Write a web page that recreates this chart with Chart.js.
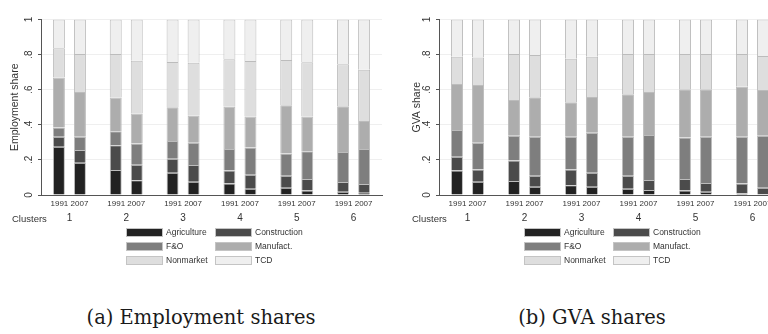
<!DOCTYPE html>
<html>
<head>
<meta charset="utf-8">
<script src="https://cdn.jsdelivr.net/npm/chart.js@4.4.1/dist/chart.umd.min.js"></script>
<style>
  body { margin:0; width:768px; height:334px; overflow:hidden; background:#fff; position:relative; font-family:"Liberation Sans", sans-serif; color:#333; }
  canvas { position:absolute; top:0; }
  .clusters { position:absolute; top:213px; font-size:9.5px; line-height:12px; }
  .legend { position:absolute; top:228px; display:grid; grid-template-columns:89px 90px; row-gap:5px; font-size:8.5px; line-height:9px; white-space:nowrap; }
  .legend .box { display:inline-block; width:37px; height:9px; vertical-align:top; margin-right:3px; box-sizing:border-box; border:1px solid #c4c4c4; }
  .caption { position:absolute; top:306px; width:384px; text-align:center; font-family:"DejaVu Serif", serif; font-size:19.5px; color:#1a1a1a; }
</style>
</head>
<body>
<canvas id="emp" width="384" height="240" style="left:0"></canvas>
<canvas id="gva" width="400" height="240" style="left:384px"></canvas>
<div class="clusters" style="left:12px">Clusters</div>
<div class="clusters" style="left:412px">Clusters</div>
<div class="legend" id="legEmp" style="left:126px"></div>
<div class="legend" id="legGva" style="left:524px"></div>
<div class="caption" style="left:9px">(a) Employment shares</div>
<div class="caption" style="left:400px">(b) GVA shares</div>
<script>
const clusters = ['1', '2', '3', '4', '5', '6'];
const years = ['1991', '2007'];
const sectors = ['Agriculture', 'Construction', 'F&O', 'Manufact.', 'Nonmarket', 'TCD'];
const sectorColors = ['#222222', '#4b4b4b', '#7e7e7e', '#adadad', '#dedede', '#efefef'];
const yTickLabels = ['0', '.2', '.4', '.6', '.8', '1'];

// employment shares, one pair per cluster: [1991, 2007]
const empAgriculture = [[.275, .184], [.142, .084], [.127, .076], [.065, .036], [.042, .025], [.019, .013]];
const empConstruction = [[.057, .072], [.141, .089], [.080, .095], [.074, .080], [.068, .066], [.055, .050]];
const empFO = [[.052, .076], [.080, .121], [.101, .127], [.123, .154], [.127, .158], [.171, .199]];
const empManufact = [[.286, .255], [.192, .171], [.192, .154], [.241, .178], [.274, .199], [.260, .160]];
const empNonmarket = [[.166, .216], [.248, .300], [.258, .302], [.270, .316], [.258, .308], [.240, .292]];
const empTCD = [[.164, .197], [.197, .235], [.242, .246], [.227, .236], [.231, .244], [.255, .286]];

// GVA shares
const gvaAgriculture = [[.139, .076], [.080, .047], [.055, .047], [.036, .028], [.025, .019], [.009, .006]];
const gvaConstruction = [[.079, .070], [.116, .063], [.091, .080], [.074, .057], [.066, .049], [.056, .036]];
const gvaFO = [[.152, .152], [.142, .222], [.186, .228], [.222, .257], [.236, .264], [.267, .296]];
const gvaManufact = [[.262, .329], [.203, .225], [.196, .203], [.242, .245], [.275, .270], [.285, .260]];
const gvaNonmarket = [[.156, .157], [.262, .241], [.249, .230], [.229, .216], [.201, .201], [.186, .194]];
const gvaTCD = [[.212, .216], [.197, .202], [.223, .212], [.197, .197], [.197, .197], [.197, .208]];

function drawPanel(id, yTitle, series, yWidth, padRight, titlePad) {
  const datasets = [];
  years.forEach((yr, yi) => {
    sectors.forEach((name, si) => {
      datasets.push({
        label: name,
        stack: yr,
        data: series[si].map(p => p[yi]),
        backgroundColor: sectorColors[si],
        borderColor: '#bcbcbc',
        borderWidth: 1,
        categoryPercentage: 0.74,
        barPercentage: 0.57
      });
    });
  });

  new Chart(document.getElementById(id), {
    type: 'bar',
    data: { labels: clusters, datasets: datasets },
    options: {
      responsive: false,
      animation: false,
      layout: { padding: { top: 19.5, right: padRight, left: 0, bottom: 16 } },
      plugins: { legend: { display: false }, tooltip: { enabled: false } },
      scales: {
        x: {
          stacked: true,
          weight: 0,
          grid: { display: false, drawTicks: false },
          border: { color: '#555' },
          ticks: { padding: 4, maxRotation: 0, autoSkip: false, font: { size: 8 }, color: '#333',
                   callback: () => years.join(' ') },
          afterFit: s => { s.height = 14; }
        },
        x2: {
          type: 'category',
          labels: clusters,
          offset: true,
          position: 'bottom',
          weight: 1,
          grid: { display: false, drawTicks: false },
          border: { display: false },
          ticks: { padding: 3, font: { size: 10 }, color: '#333' },
          afterFit: s => { s.height = 15; }
        },
        y: {
          stacked: true,
          min: 0,
          max: 1,
          ticks: { stepSize: 0.2, minRotation: 90, maxRotation: 90, crossAlign: 'center', padding: 5,
                   font: { size: 10 }, color: '#333', callback: (v, i) => yTickLabels[i] },
          grid: { color: '#efefef', tickColor: '#555', tickLength: 3 },
          border: { color: '#555' },
          title: { display: true, text: yTitle, font: { size: 10.5 }, color: '#333',
                   padding: { top: titlePad, bottom: 0 } },
          afterFit: s => { s.width = yWidth; }
        }
      }
    }
  });
}

function drawLegend(id) {
  const el = document.getElementById(id);
  sectors.forEach((name, i) => {
    const item = document.createElement('div');
    item.innerHTML = '<span class="box" style="background:' + sectorColors[i] + '"></span>';
    item.appendChild(document.createTextNode(name));
    el.appendChild(item);
  });
}

drawPanel('emp', 'Employment share',
  [empAgriculture, empConstruction, empFO, empManufact, empNonmarket, empTCD], 41, 2, 8.7);
drawPanel('gva', 'GVA share',
  [gvaAgriculture, gvaConstruction, gvaFO, gvaManufact, gvaNonmarket, gvaTCD], 55, 3, 26.7);
drawLegend('legEmp');
drawLegend('legGva');
</script>
</body>
</html>
